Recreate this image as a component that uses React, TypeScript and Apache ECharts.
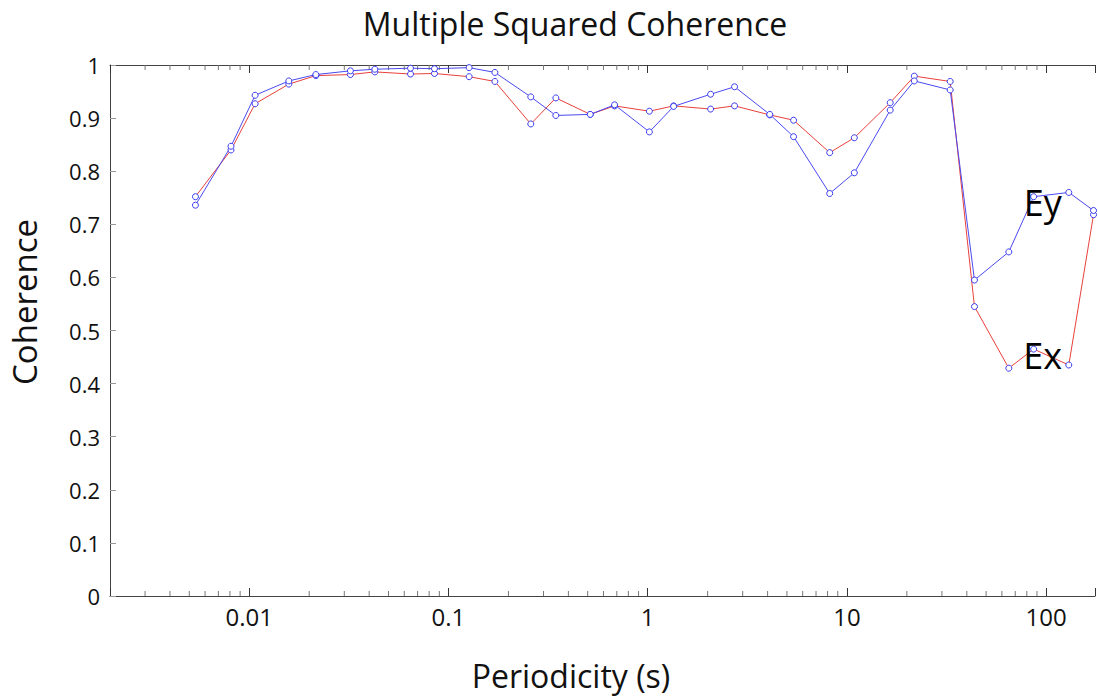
import React, { useEffect, useRef } from "react";
import * as echarts from "echarts";

const periods = [
  0.00537, 0.0081, 0.0107, 0.0158, 0.0216, 0.0322, 0.0427, 0.0645, 0.0851, 0.127,
  0.171, 0.259, 0.346, 0.515, 0.682, 1.02, 1.35, 2.07, 2.73, 4.1,
  5.4, 8.2, 10.9, 16.5, 21.8, 33, 43.7, 65, 86.6, 130, 173,
];
const eyValues = [
  0.736, 0.847, 0.943, 0.97, 0.982, 0.989, 0.992, 0.994, 0.993, 0.995,
  0.986, 0.94, 0.905, 0.907, 0.925, 0.874, 0.922, 0.945, 0.959, 0.907,
  0.865, 0.758, 0.797, 0.915, 0.97, 0.953, 0.595, 0.648, 0.752, 0.76, 0.726,
];
const exValues = [
  0.752, 0.84, 0.927, 0.964, 0.98, 0.982, 0.987, 0.983, 0.984, 0.978,
  0.969, 0.889, 0.938, 0.907, 0.923, 0.913, 0.923, 0.917, 0.923, 0.906,
  0.896, 0.835, 0.863, 0.929, 0.979, 0.969, 0.545, 0.429, 0.465, 0.435, 0.718,
];
const labelIndex = 28;
const xMin = 0.002;
const xMax = 176;
const majorTicks = [0.01, 0.1, 1, 10, 100];
const minorMultipliers = [2, 3, 4, 5, 6, 7, 8, 9];
const decades = [0.001, 0.01, 0.1, 1, 10, 100];

const FONT = "'Open Sans', 'Noto Sans', sans-serif";

function formatX(v: number): string {
  for (const m of majorTicks) {
    if (Math.abs(v - m) / m < 1e-6) return String(m);
  }
  return "";
}

export default function App() {
  const ref = useRef<HTMLDivElement>(null);
  useEffect(() => {
    if (!ref.current) return;
    const chart = echarts.init(ref.current, undefined, { renderer: "svg" });

    const minorData: number[][] = [];
    for (const d of decades) {
      for (const k of minorMultipliers) {
        const v = d * k;
        if (v > xMin && v < xMax) minorData.push([v, 0]);
      }
    }

    const mk = (vals: number[], name: string, lineColor: string, tag: string) => ({
      type: "line",
      name,
      data: periods.map((p, i) => {
        const item: any = { value: [p, vals[i]] };
        if (i === labelIndex) {
          item.label = {
            show: true,
            formatter: tag,
            position: "inside",
            offset: [9, 6],
            fontSize: 36,
            fontFamily: FONT,
            color: "#000",
          };
        }
        return item;
      }),
      symbol: "circle",
      symbolSize: 6,
      showSymbol: true,
      lineStyle: { color: lineColor, width: 1 },
      itemStyle: { color: "#ffffff", borderColor: "#3b3bf0", borderWidth: 1 },
      emphasis: { disabled: true },
      z: 3,
    });

    chart.setOption({
      animation: false,
      backgroundColor: "#ffffff",
      title: {
        text: "Multiple Squared Coherence",
        left: 570,
        top: 2,
        textAlign: "center",
        textStyle: { fontFamily: FONT, fontSize: 32, fontWeight: "normal", color: "#111" },
      },
      graphic: [
        {
          type: "text",
          x: 24,
          y: 302,
          rotation: Math.PI / 2,
          style: {
            text: "Coherence",
            font: `33px ${FONT}`,
            fill: "#111",
            textAlign: "center",
            textVerticalAlign: "middle",
          },
        },
        {
          type: "text",
          x: 571,
          y: 675,
          style: {
            text: "Periodicity (s)",
            font: `32px ${FONT}`,
            fill: "#111",
            textAlign: "center",
            textVerticalAlign: "middle",
          },
        },
      ],
      grid: { left: 110, top: 65, right: 0, bottom: 101, containLabel: false },
      xAxis: [
        {
          type: "log",
          logBase: 10,
          min: xMin,
          max: xMax,
          position: "bottom",
          axisLine: { show: true, lineStyle: { color: "#444", width: 1 } },
          axisTick: { show: true, inside: true, length: 8, lineStyle: { color: "#333" } },
          axisLabel: {
            formatter: formatX,
            fontFamily: FONT,
            fontSize: 24,
            color: "#111",
            margin: 8,
          },
          splitLine: { show: false },
        },
        {
          type: "log",
          logBase: 10,
          min: xMin,
          max: xMax,
          position: "top",
          axisLine: { show: true, lineStyle: { color: "#444", width: 1 } },
          axisTick: { show: true, inside: true, length: 8, lineStyle: { color: "#333" } },
          axisLabel: { show: false },
          splitLine: { show: false },
        },
      ],
      yAxis: {
        type: "value",
        min: 0,
        max: 1,
        interval: 0.1,
        axisLine: { show: true, lineStyle: { color: "#444", width: 1 } },
        axisTick: { show: true, inside: true, length: 6, lineStyle: { color: "#999" } },
        axisLabel: { fontFamily: FONT, fontSize: 22, color: "#111", margin: 10 },
        splitLine: { show: false },
      },
      series: [
        {
          type: "custom",
          data: minorData,
          silent: true,
          clip: false,
          z: 1,
          renderItem: (params: any, api: any) => {
            const v = api.value(0);
            const b = api.coord([v, 0]);
            const t = api.coord([v, 1]);
            const style = { stroke: "#777", lineWidth: 1 };
            return {
              type: "group",
              children: [
                { type: "line", shape: { x1: b[0], y1: b[1], x2: b[0], y2: b[1] - 5 }, style },
                { type: "line", shape: { x1: t[0], y1: t[1], x2: t[0], y2: t[1] + 5 }, style },
              ],
            };
          },
        },
        mk(exValues, "Ex", "#e8403a", "Ex"),
        mk(eyValues, "Ey", "#4a4af0", "Ey"),
      ],
    });
    return () => chart.dispose();
  }, []);
  return (
    <div
      ref={ref}
      style={{ position: "absolute", left: 0, top: 0, width: 1098, height: 697 }}
    />
  );
}
